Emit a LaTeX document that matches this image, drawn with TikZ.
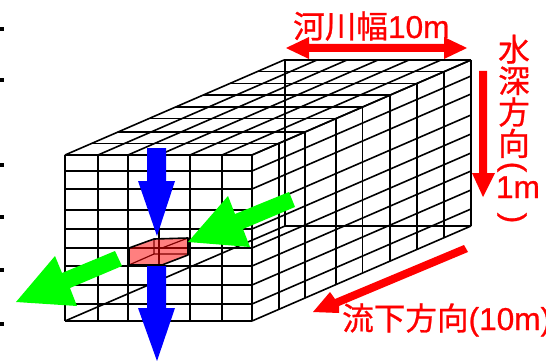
\documentclass[tikz,border=0pt]{standalone}
\usepackage{fontspec}
\setmainfont{Liberation Sans}[FakeBold=0.8]
\newfontfamily\cjk{Noto Sans CJK JP}[FakeBold=0.8]
\usetikzlibrary{positioning}

\begin{document}
\begin{tikzpicture}[
  x=1pt, y=-1pt,
  node distance=2pt,
  gridline/.style={draw=black, line width=1.6pt},
  redarrow/.style={fill=red, draw=none},
  bluearrow/.style={fill=blue, draw=none},
  greenarrow/.style={fill=green, draw=none},
  redlabel/.style={text=red, inner sep=0pt, font=\fontsize{31.6}{32}\selectfont},
  depthcell/.style={redlabel, text height=25pt, text depth=4pt},
]
  \useasboundingbox (0,0) rectangle (546,361);

  % --- ticks at the left border ---
  \foreach \ty in {29,80,165,217,270,324}
    \fill (0,\ty-1.8) rectangle (4,\ty+1.8);

  % --- grid: front face, top face and right face ---
  \foreach \gx in {65,98,128,159,190,222,252} {
    \draw[gridline] (\gx,155) -- (\gx,321);
    \draw[gridline] (\gx,155) -- (\gx+219,60);
  }
  \foreach \gy in {155,171,189,210,229,248,266,285,304,321} {
    \draw[gridline] (65,\gy) -- (252,\gy);
    \draw[gridline] (252,\gy) -- (471,\gy-95);
  }
  \foreach \t in {0.123,0.242,0.384,0.505,0.63,0.753,0.877,1} {
    \draw[gridline] (65+219*\t,155-95*\t) -- (252+219*\t,155-95*\t);
    \draw[gridline] (252+219*\t,155-95*\t) -- (252+219*\t,321-95*\t);
  }
  % back edges
  \draw[gridline] (285,60) -- (285,226) -- (471,226);
  \draw[gridline] (65,321) -- (285,226);

  % --- the cell ---
  \fill[red, fill opacity=0.5] (129,248) -- (154,239) -- (188,238) -- (188,255)
    -- (162,265) -- (129,265) -- cycle;
  \draw[red!50!black, line width=1.2pt]
    (154,239) -- (154,254) -- (188,254)
    (154,254) -- (129,265)
    (162,248) -- (188,238);
  \draw[black, line width=1.6pt, line join=round]
    (129,248) -- (154,239) -- (188,238) -- (188,255) -- (162,265) -- (129,265) -- cycle;

  % --- blue and green arrows ---
  \fill[bluearrow] (147,148) -- (166,148) -- (166,181) -- (175,181) -- (157,236)
    -- (138,181) -- (147,181) -- cycle;
  \fill[bluearrow] (147,266) -- (166,266) -- (166,308) -- (175,308) -- (157,361)
    -- (138,308) -- (147,308) -- cycle;
  \fill[greenarrow] (289,192) -- (295,207) -- (243,229) -- (250,247) -- (188,242)
    -- (228,196) -- (235,214) -- cycle;
  \fill[greenarrow] (115,251) -- (122,266) -- (70,288) -- (77,306) -- (16,302)
    -- (55,256) -- (62,273) -- cycle;

  % --- red arrows ---
  \fill[redarrow] (286,48) -- (309,37) -- (309,44) -- (444,44) -- (444,37) -- (467,48)
    -- (444,59) -- (444,52) -- (309,52) -- (309,59) -- cycle;
  \fill[redarrow] (479,71) -- (487,71) -- (487,173) -- (495,173) -- (483,197)
    -- (472,173) -- (479,173) -- cycle;
  \fill[redarrow] (464,245) -- (468,252) -- (339,306) -- (339,313) -- (313,312)
    -- (330,292) -- (335,299) -- cycle;

  % --- labels ---
  \node (widthlabel) [redlabel, anchor=base west] at (293,38) {{\cjk 河川幅}10m};
  \node (flowlabel) [redlabel, anchor=base west] at (342,330) {{\cjk 流下方向}(10m)};
  \node (depthA) [depthcell, anchor=north] at (514,36) {\cjk 水};
  \node (depthB) [depthcell, below=of depthA] {\cjk 深};
  \node (depthC) [depthcell, below=of depthB] {\cjk 方};
  \node (depthD) [depthcell, below=of depthC] {\cjk 向};
  \node (parenopen) [redlabel, rotate=-90] at (512,167) {(};
  \node (depthE) [redlabel, anchor=base] at (518,198) {1m};
  \node (parenclose) [redlabel, rotate=-90] at (512,218) {)};
\end{tikzpicture}
\end{document}
